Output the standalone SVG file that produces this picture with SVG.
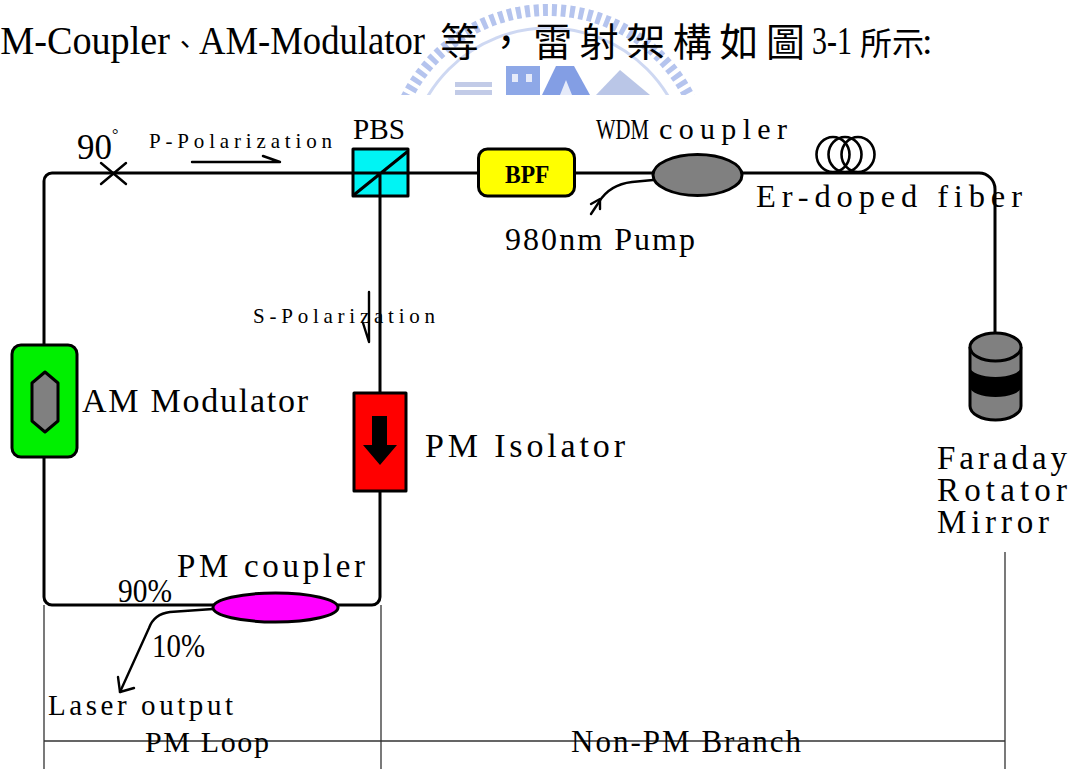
<svg xmlns="http://www.w3.org/2000/svg" width="1076" height="769" viewBox="0 0 1076 769">
  <style>
    .fib{fill:none;stroke:#000;stroke-width:3;stroke-linecap:round;stroke-linejoin:round}
    .pol{fill:none;stroke:#000;stroke-width:2.4;stroke-linecap:round;stroke-linejoin:round}
    .div{fill:none;stroke:#333;stroke-width:1.3}
    .part{stroke:#000;stroke-width:3;stroke-linejoin:round}
    .lbl{font-family:"Liberation Serif","Times New Roman",serif;fill:#000}
    .cjk{font-family:"Noto Sans CJK TC","Noto Sans CJK SC",sans-serif;fill:#000}
  </style>
  <defs>
    <clipPath id="wm-clip"><rect x="0" y="0" width="1076" height="95"/></clipPath>
  </defs>

  <rect width="1076" height="769" fill="#fff"/>

  <!-- faded emblem behind the caption -->
  <g id="watermark" clip-path="url(#wm-clip)" opacity="0.8">
    <path d="M390,168 A158,158 0 0 1 706,168" fill="none" stroke="#a3b6ea" stroke-width="12" stroke-dasharray="5 4"/>
    <path d="M408,168 A140,140 0 0 1 688,168" fill="none" stroke="#c3cff0" stroke-width="3"/>
    <rect x="455" y="82" width="37" height="5" fill="#b3bfe2"/>
    <rect x="455" y="90" width="37" height="5" fill="#b3bfe2"/>
    <rect x="506" y="66" width="34" height="29" fill="#7393e2"/>
    <rect x="512" y="74" width="6" height="8" fill="#dfe6f8"/>
    <rect x="526" y="74" width="6" height="8" fill="#dfe6f8"/>
    <polygon points="542,95 556,66 574,66 590,95" fill="#6586de"/>
    <polygon points="560,95 566,80 572,95" fill="#dfe6f8"/>
    <polygon points="596,95 620,70 650,95" fill="#aab9e2"/>
  </g>

  <!-- caption line: Latin runs in serif, Han runs in the CJK face -->
  <g id="caption">
    <text class="lbl" y="54" font-size="40"><tspan x="-21" textLength="191" lengthAdjust="spacingAndGlyphs">PM-Coupler</tspan><tspan class="cjk" x="172" font-size="26">、</tspan><tspan x="199" textLength="226" lengthAdjust="spacingAndGlyphs">AM-Modulator</tspan><tspan class="cjk" x="440" y="56" font-size="39" textLength="365" lengthAdjust="spacing">等，雷射架構如圖</tspan><tspan x="812" y="54" textLength="40" lengthAdjust="spacingAndGlyphs">3-1</tspan><tspan class="cjk" x="860" y="55" font-size="32">所示</tspan><tspan x="922" y="54" font-size="38">:</tspan></text>
  </g>

  <!-- region dividers -->
  <g id="regions">
    <path class="div" d="M44,605 V769 M381,605 V769 M1005,552 V769 M44,741 H1005"/>
  </g>

  <!-- fibre connections -->
  <g id="connectors">
    <path class="fib" d="M353,173 H52 A8,8 0 0 0 44,181 V345"/>
    <path class="fib" d="M44,457 V597 A8,8 0 0 0 52,605 H213"/>
    <path class="fib" d="M338,605 H372 A8,8 0 0 0 380,597 V491"/>
    <path class="fib" d="M380,393 V196"/>
    <path class="fib" d="M408,173 H478"/>
    <path class="fib" d="M575,173 H653"/>
    <path class="fib" d="M742,173 H979 A16,16 0 0 1 995,189 V333"/>
    <!-- pump input -->
    <path class="pol" d="M653,180 L632,182 C615,184 605,192 599,202 L591,214"/>
    <path class="pol" d="M591,204 L600,199 L600,209"/>
    <!-- 10% output -->
    <path class="pol" d="M213,609 L170,612 Q154,614 149,628 L120,692"/>
    <path class="pol" d="M118,677 L120,692 L134,688"/>
    <!-- polarization direction marks -->
    <path class="pol" d="M192,162 H280 L263,156"/>
    <path class="pol" d="M369,292 V342 L363,323"/>
  </g>

  <g id="splice-90">
    <path class="pol" d="M101,163 L126,184 M101,184 L126,163"/>
    <text class="lbl" x="77" y="159" font-size="35">90<tspan font-size="16" dy="-19">°</tspan></text>
  </g>

  <g id="p-pol-label">
    <text class="lbl" x="149" y="148" font-size="21" textLength="183" lengthAdjust="spacing">P-Polarization</text>
  </g>

  <g id="pbs">
    <rect class="part" x="353" y="149" width="55" height="47" fill="#00f4f4"/>
    <path class="fib" d="M353,173 H408 M380,173 V196 M355,194 L407,152"/>
    <text class="lbl" x="353" y="139" font-size="30" textLength="52" lengthAdjust="spacingAndGlyphs">PBS</text>
  </g>

  <g id="bpf">
    <rect class="part" x="478.5" y="149" width="96" height="47" rx="9" fill="#ffff00"/>
    <text class="lbl" x="505" y="183" font-size="26" font-weight="bold" textLength="44.5" lengthAdjust="spacingAndGlyphs">BPF</text>
  </g>

  <g id="wdm-coupler">
    <ellipse class="part" cx="697.5" cy="175" rx="44.5" ry="20.5" fill="#808080"/>
    <text class="lbl" y="139" font-size="30"><tspan x="596" textLength="53" lengthAdjust="spacingAndGlyphs">WDM</tspan><tspan x="659" textLength="128" lengthAdjust="spacing">coupler</tspan></text>
  </g>

  <g id="pump-label">
    <text class="lbl" x="505" y="250" font-size="32" textLength="190" lengthAdjust="spacing">980nm Pump</text>
  </g>

  <g id="er-fiber">
    <g fill="none" stroke="#000" stroke-width="2.6">
      <ellipse cx="833" cy="154.5" rx="16.5" ry="17.5"/>
      <ellipse cx="845" cy="154.5" rx="16.5" ry="17.5"/>
      <ellipse cx="858" cy="154.5" rx="16.5" ry="17.5"/>
    </g>
    <text class="lbl" x="756" y="207" font-size="32.5" textLength="266" lengthAdjust="spacing">Er-doped fiber</text>
  </g>

  <g id="faraday-mirror">
    <path class="part" d="M970,347 V406 A25.5,14 0 0 0 1021,406 V347" fill="#808080"/>
    <path d="M970,367 A25.5,10 0 0 0 1021,367 V387 A25.5,10 0 0 1 970,387 Z" fill="#000"/>
    <ellipse class="part" cx="995.5" cy="347" rx="25.5" ry="14" fill="#808080"/>
    <text class="lbl" font-size="33"><tspan x="937" y="469" textLength="130" lengthAdjust="spacing">Faraday</tspan><tspan x="937" y="501" textLength="130" lengthAdjust="spacing">Rotator</tspan><tspan x="937" y="533" textLength="112" lengthAdjust="spacing">Mirror</tspan></text>
  </g>

  <g id="s-pol-label">
    <text class="lbl" x="253" y="323" font-size="21" textLength="182" lengthAdjust="spacing">S-Polarization</text>
  </g>

  <g id="am-modulator">
    <rect class="part" x="12" y="345" width="65" height="112" rx="9" fill="#00f000"/>
    <polygon class="part" points="45,372 58,383 58,421 45,432 32,421 32,383" fill="#808080"/>
    <text class="lbl" x="82" y="412" font-size="34" textLength="226" lengthAdjust="spacing">AM Modulator</text>
  </g>

  <g id="pm-isolator">
    <rect class="part" x="354" y="393" width="52" height="98" fill="#ff0000"/>
    <polygon points="372,416 387,416 387,445 397,445 380,465 363,445 372,445" fill="#000"/>
    <text class="lbl" x="425" y="457" font-size="34" textLength="200" lengthAdjust="spacing">PM Isolator</text>
  </g>

  <g id="pm-coupler">
    <ellipse class="part" cx="275.5" cy="607.5" rx="62.5" ry="14.5" fill="#ff00ff"/>
    <text class="lbl" x="177" y="577" font-size="33" textLength="188" lengthAdjust="spacing">PM coupler</text>
    <text class="lbl" x="118" y="602" font-size="33" textLength="54" lengthAdjust="spacingAndGlyphs">90%</text>
    <text class="lbl" x="152" y="657" font-size="33" textLength="53" lengthAdjust="spacingAndGlyphs">10%</text>
  </g>

  <g id="laser-output">
    <text class="lbl" x="48" y="715" font-size="29" textLength="185" lengthAdjust="spacing">Laser output</text>
  </g>

  <g id="region-labels">
    <text class="lbl" x="145" y="752" font-size="30" textLength="124" lengthAdjust="spacing">PM Loop</text>
    <text class="lbl" x="571" y="752" font-size="31" textLength="230" lengthAdjust="spacing">Non-PM Branch</text>
  </g>
</svg>
